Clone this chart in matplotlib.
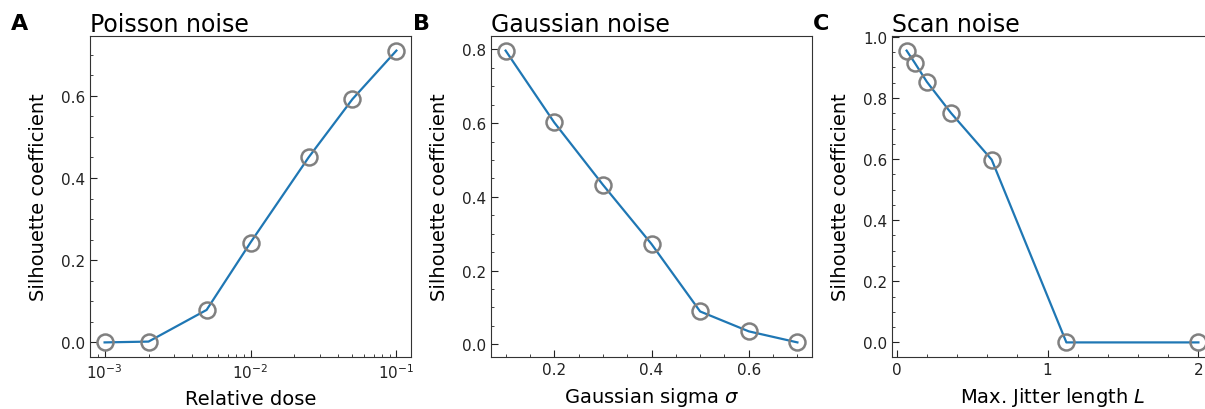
import matplotlib
matplotlib.use("Agg")
import matplotlib.pyplot as plt
from matplotlib.ticker import MultipleLocator

# Silhouette coefficient under different noise models
dose = [0.001, 0.002, 0.005, 0.01, 0.025, 0.05, 0.1]
sil_poisson = [0.0, 0.002, 0.079, 0.243, 0.450, 0.592, 0.710]

sigma = [0.1, 0.2, 0.3, 0.4, 0.5, 0.6, 0.7]
sil_gauss = [0.797, 0.602, 0.433, 0.272, 0.089, 0.035, 0.005]

jitter = [0.066, 0.12, 0.2, 0.36, 0.63, 1.125, 2.0]
sil_scan = [0.955, 0.915, 0.853, 0.751, 0.598, 0.0, 0.0]

# (tag, title, x, y, xlabel, log-x, x major/minor steps)
panels = [
    ("A", "Poisson noise", dose, sil_poisson, "Relative dose", True, None),
    ("B", "Gaussian noise", sigma, sil_gauss, r"Gaussian sigma $\sigma$", False, (0.2, 0.05)),
    ("C", "Scan noise", jitter, sil_scan, r"Max. Jitter length $L$", False, (1.0, 0.2)),
]

W, H = 1205, 410
fig = plt.figure(figsize=(W / 100, H / 100), dpi=100)

lefts = [90, 491, 892]
ax_w, ax_top, ax_bot = 321, 37, 358
label_x = [11, 413, 813]

for (tag, title, x, y, xlabel, logx, xsteps), lx, tx in zip(panels, lefts, label_x):
    ax = fig.add_axes([lx / W, (H - ax_bot) / H, ax_w / W, (ax_bot - ax_top) / H])
    ax.plot(x, y, "-", color="#1f77b4", lw=1.6, zorder=2)
    ax.plot(x, y, "o", mfc="none", mec="#808080", mew=1.8, ms=11.5, zorder=3,
            clip_on=False)
    if logx:
        ax.set_xscale("log")
    else:
        ax.xaxis.set_major_locator(MultipleLocator(xsteps[0]))
        ax.xaxis.set_minor_locator(MultipleLocator(xsteps[1]))
    ax.yaxis.set_major_locator(MultipleLocator(0.2))
    ax.yaxis.set_minor_locator(MultipleLocator(0.05))
    ax.tick_params(which="both", direction="in", colors="#222222", labelsize=11)
    ax.tick_params(which="major", length=5)
    ax.tick_params(which="minor", length=2.5)
    for s in ax.spines.values():
        s.set_color("#333333")
    ax.set_xlabel(xlabel, fontsize=14, labelpad=6)
    ax.set_ylabel("Silhouette coefficient", fontsize=14, labelpad=9)
    ax.set_title(title, loc="left", fontsize=17, pad=2)
    fig.text(tx / W, 1 - 30 / H, tag, fontsize=16, fontweight="bold")

fig.savefig("out.png", dpi=100)
